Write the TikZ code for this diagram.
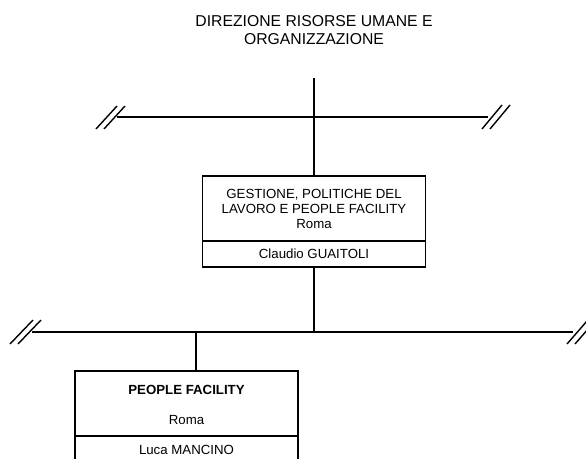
\documentclass[tikz,border=0pt]{standalone}
\usepackage{fontspec}
\setmainfont{Liberation Sans}
\begin{document}
\begin{tikzpicture}[x=1bp,y=-1bp,
  every node/.style={font=\fontsize{13.3}{15}\selectfont, inner sep=0pt, outer sep=0pt},
  conn/.style={line width=1.6bp, black},
  brk/.style={line width=1.4bp, black},
  unitbox/.style={draw, line width=1.6bp, rectangle, minimum width=223bp, align=center},
  lbl/.style={align=center},
  titlelbl/.style={align=center, font=\fontsize{15.8}{18}\selectfont}]
\useasboundingbox (0,0) rectangle (586,459);
% title
\node[titlelbl] (title) at (314,30) {DIREZIONE RISORSE UMANE E\\ORGANIZZAZIONE};
% box 1
\node[unitbox, minimum height=65bp] (g1) at (314,208.5) {GESTIONE, POLITICHE DEL\\LAVORO E PEOPLE FACILITY\\Roma};
\node[unitbox, minimum height=26bp, anchor=north] (g1n) at (g1.south) {Claudio GUAITOLI};
% box 2
\node[unitbox, minimum height=65bp] (p1) at (186.5,403.5) {};
\node[lbl] (p1t) at (186.5,390) {\bfseries PEOPLE FACILITY};
\node[lbl] (p1r) at (186.5,420) {Roma};
\node[unitbox, minimum height=30bp, anchor=north] (p1n) at (p1.south) {};
\node[lbl] (p1m) at (186.5,450) {Luca MANCINO};
% coordinates
\coordinate (top) at (314,78);
\coordinate (L1) at (117,117);
\coordinate (R1) at (488,117);
\coordinate (L2) at (32,332);
\coordinate (R2) at (573,332);
\coordinate (D2) at (196,332);
% connectors
\draw[conn] (top) -- (top |- g1.north);
\draw[conn] (L1) -- (R1);
\draw[conn] (g1n.south) -- (g1n.south |- L2);
\draw[conn] (L2) -- (R2);
\draw[conn] (D2) -- (D2 |- p1.north);
% break marks
\draw[brk] (96,129) -- (117,106) (104,129) -- (125,106);
\draw[brk] (482,129) -- (502,105) (490,129) -- (510,105);
\draw[brk] (10,344) -- (33,320) (18,344) -- (41,320);
\draw[brk] (567,344) -- (587,321) (575,344) -- (595,321);
\end{tikzpicture}
\end{document}
